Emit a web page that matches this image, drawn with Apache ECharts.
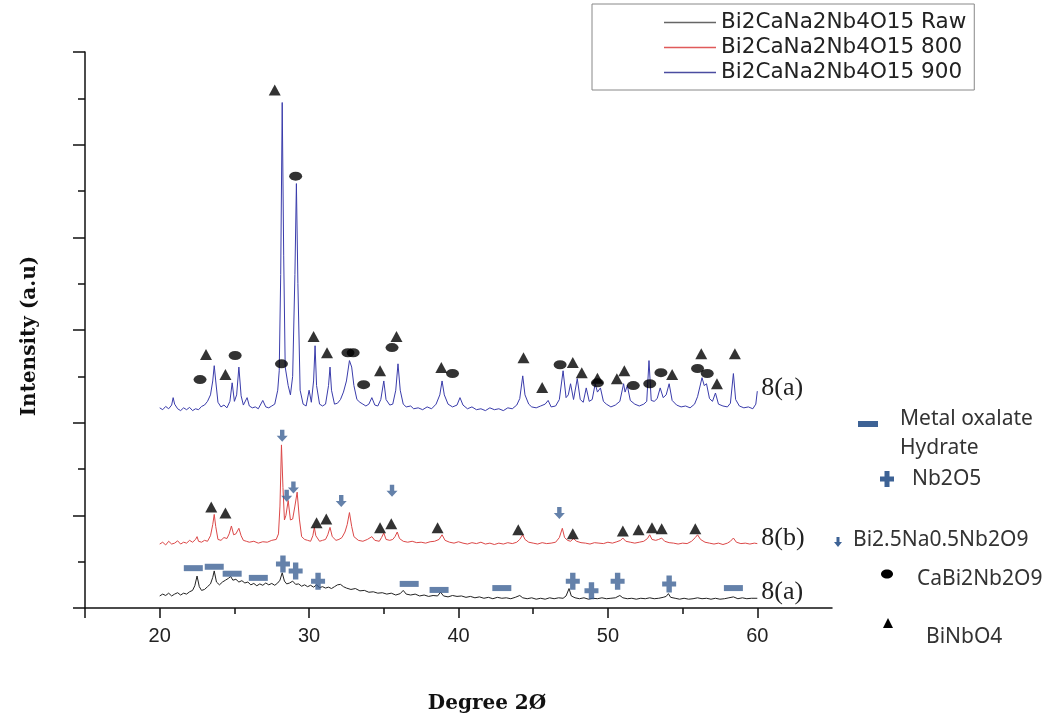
<!DOCTYPE html>
<html>
<head>
<meta charset="utf-8">
<script src="https://cdn.jsdelivr.net/npm/echarts@6/dist/echarts.min.js"></script>
<style>
  html, body { margin: 0; padding: 0; background: #fff; }
  #chart { width: 1047px; height: 722px; }
</style>
</head>
<body>
<div id="chart"></div>
<script>
// series names + end tags
var seriesNames = ['Bi2CaNa2Nb4O15 Raw', 'Bi2CaNa2Nb4O15 800', 'Bi2CaNa2Nb4O15 900']
var endTags = ['8(a)', '8(b)', '8(a)']

// x ticks / labels (degree 2theta)
var majorTicks = [15, 20, 30, 40, 50, 60]
var minorTicks = [25, 35, 45, 55]
var xLabels = [20, 30, 40, 50, 60]

// raw powder
var rawData = [
  [20.0,130],[20.2,150],[20.4,135],[20.6,160],[20.8,130],[21.0,150],[21.2,165],[21.4,140],[21.6,160],[21.8,150],
  [22.0,175],[22.2,190],[22.35,240],[22.5,345],[22.65,230],[22.8,190],[23.0,200],[23.2,230],[23.4,260],[23.55,330],
  [23.65,400],[23.8,280],[24.0,250],[24.2,280],[24.4,300],[24.6,320],[24.75,340],[24.9,300],[25.1,310],[25.3,280],
  [25.5,295],[25.7,270],[25.9,280],[26.1,250],[26.3,265],[26.5,240],[26.7,260],[26.9,245],[27.1,270],[27.3,250],
  [27.5,265],[27.7,245],[27.9,270],[28.05,300],[28.2,380],[28.35,290],[28.5,260],[28.7,270],[28.9,290],[29.1,255],
  [29.3,260],[29.5,235],[29.7,250],[29.9,230],[30.1,245],[30.3,225],[30.5,250],[30.7,220],[30.9,230],[31.1,215],
  [31.3,225],[31.5,210],[31.7,230],[31.9,250],[32.1,255],[32.3,230],[32.5,215],[32.8,200],[33.1,210],[33.4,185],
  [33.7,190],[34.0,170],[34.3,175],[34.6,160],[34.9,165],[35.2,150],[35.5,160],[35.8,140],[36.1,155],[36.3,190],
  [36.5,150],[36.8,140],[37.1,150],[37.4,130],[37.7,140],[38.0,125],[38.3,135],[38.6,130],[38.8,170],[39.0,130],
  [39.3,120],[39.6,135],[39.9,125],[40.2,130],[40.5,115],[40.8,125],[41.1,110],[41.4,120],[41.7,105],[42.0,115],
  [42.3,100],[42.6,115],[42.9,105],[43.2,110],[43.5,100],[43.8,115],[44.1,135],[44.3,110],[44.6,100],[44.9,110],
  [45.2,95],[45.5,105],[45.8,95],[46.1,110],[46.4,100],[46.7,110],[47.0,105],[47.2,130],[47.4,210],[47.55,130],
  [47.8,110],[48.1,100],[48.4,110],[48.7,95],[49.0,105],[49.3,100],[49.6,110],[49.9,100],[50.2,105],[50.5,110],
  [50.8,135],[51.0,110],[51.3,100],[51.6,105],[51.9,95],[52.2,105],[52.5,100],[52.8,110],[53.1,100],[53.4,105],
  [53.7,115],[53.9,125],[54.05,155],[54.2,115],[54.5,105],[54.8,95],[55.1,105],[55.4,95],[55.7,100],[56.0,110],
  [56.3,100],[56.6,105],[56.9,95],[57.2,105],[57.5,95],[57.8,100],[58.1,110],[58.4,120],[58.7,100],[59.0,110],
  [59.3,100],[59.6,105],[60.0,105]
]

// calcined 800
var data800 = [
  [20.0,690],[20.2,710],[20.4,680],[20.6,720],[20.8,690],[21.0,700],[21.2,725],[21.4,690],[21.6,710],[21.8,700],
  [22.0,730],[22.2,710],[22.4,740],[22.5,770],[22.6,720],[22.8,710],[23.0,730],[23.2,720],[23.4,780],[23.55,900],
  [23.65,1010],[23.75,880],[23.9,740],[24.1,730],[24.3,760],[24.5,750],[24.65,800],[24.8,885],[24.95,790],[25.1,800],
  [25.3,860],[25.45,780],[25.6,730],[25.8,720],[26.0,710],[26.3,720],[26.6,700],[26.9,715],[27.2,710],[27.5,730],
  [27.8,740],[27.95,800],[28.05,1100],[28.15,1760],[28.25,1300],[28.35,950],[28.45,1000],[28.6,1160],[28.75,950],[28.9,960],
  [29.05,1100],[29.2,1250],[29.35,960],[29.5,770],[29.7,740],[29.9,730],[30.1,720],[30.25,780],[30.35,870],[30.45,780],
  [30.7,720],[30.9,730],[31.1,740],[31.25,790],[31.4,870],[31.55,770],[31.8,730],[32.0,740],[32.2,760],[32.4,820],
  [32.55,900],[32.7,1030],[32.85,880],[33.0,770],[33.3,730],[33.6,720],[33.9,740],[34.2,770],[34.4,730],[34.7,720],
  [34.85,760],[35.0,810],[35.15,740],[35.4,730],[35.6,740],[35.75,770],[35.9,820],[36.05,750],[36.3,720],[36.6,710],
  [36.9,720],[37.2,705],[37.5,710],[37.8,700],[38.1,715],[38.4,720],[38.7,740],[38.9,790],[39.1,730],[39.4,710],
  [39.7,700],[40.0,715],[40.3,700],[40.6,690],[40.9,705],[41.2,695],[41.5,710],[41.8,690],[42.1,700],[42.4,685],
  [42.7,700],[43.0,690],[43.3,705],[43.6,695],[43.9,710],[44.1,740],[44.3,790],[44.45,740],[44.7,710],[45.0,700],
  [45.3,690],[45.6,705],[45.9,695],[46.2,700],[46.5,710],[46.75,760],[46.95,860],[47.1,760],[47.3,730],[47.5,720],
  [47.7,750],[47.9,720],[48.2,705],[48.5,700],[48.8,690],[49.1,705],[49.4,700],[49.7,695],[50.0,710],[50.3,700],
  [50.6,715],[50.85,730],[51.0,755],[51.2,720],[51.5,710],[51.8,700],[52.1,710],[52.4,720],[52.65,750],[52.8,790],
  [52.95,740],[53.2,730],[53.4,740],[53.6,755],[53.8,720],[54.1,705],[54.4,700],[54.7,690],[55.0,700],[55.3,695],
  [55.6,720],[55.85,760],[56.0,790],[56.2,740],[56.5,710],[56.8,700],[57.1,690],[57.4,700],[57.7,685],[58.0,700],
  [58.2,720],[58.4,755],[58.6,710],[58.9,695],[59.2,700],[59.5,690],[59.8,700],[60.0,695]
]

// calcined 900
var data900 = [
  [20.0,2160],[20.2,2140],[20.4,2175],[20.6,2150],[20.8,2190],[20.9,2270],[21.0,2200],[21.2,2150],[21.4,2130],[21.6,2160],
  [21.8,2140],[22.0,2165],[22.2,2130],[22.4,2150],[22.6,2140],[22.8,2175],[23.0,2190],[23.2,2230],[23.4,2300],[23.55,2450],
  [23.65,2615],[23.75,2450],[23.9,2220],[24.1,2170],[24.3,2190],[24.5,2160],[24.7,2230],[24.85,2430],[25.0,2230],[25.15,2300],
  [25.3,2600],[25.45,2290],[25.6,2190],[25.85,2270],[26.0,2180],[26.2,2160],[26.4,2170],[26.6,2150],[26.9,2240],[27.1,2170],
  [27.3,2160],[27.5,2180],[27.7,2200],[27.9,2350],[28.0,2560],[28.1,3600],[28.2,5455],[28.3,3800],[28.4,2600],[28.6,2400],
  [28.75,2300],[28.9,2500],[29.05,3600],[29.15,4580],[29.25,3500],[29.4,2350],[29.6,2200],[29.8,2180],[30.0,2350],[30.15,2220],
  [30.3,2450],[30.4,2830],[30.5,2400],[30.7,2200],[30.9,2180],[31.1,2200],[31.3,2400],[31.4,2600],[31.5,2350],[31.7,2200],
  [31.9,2210],[32.1,2250],[32.3,2330],[32.5,2450],[32.7,2670],[32.85,2600],[33.0,2400],[33.2,2250],[33.4,2220],[33.6,2200],
  [33.8,2180],[34.0,2200],[34.2,2270],[34.4,2190],[34.6,2180],[34.8,2250],[35.0,2450],[35.15,2250],[35.4,2190],[35.6,2200],
  [35.8,2350],[35.95,2635],[36.1,2350],[36.3,2200],[36.5,2170],[36.8,2180],[37.0,2150],[37.3,2160],[37.6,2140],[37.9,2170],
  [38.2,2150],[38.5,2200],[38.75,2300],[38.9,2450],[39.05,2300],[39.3,2200],[39.6,2170],[39.9,2190],[40.1,2270],[40.3,2190],
  [40.6,2150],[40.9,2170],[41.2,2140],[41.5,2150],[41.8,2130],[42.1,2160],[42.4,2140],[42.7,2150],[43.0,2130],[43.3,2160],
  [43.6,2150],[43.9,2190],[44.1,2260],[44.3,2505],[44.45,2300],[44.7,2200],[44.9,2170],[45.2,2160],[45.5,2180],[45.8,2200],
  [46.0,2240],[46.2,2170],[46.5,2180],[46.75,2250],[47.0,2560],[47.2,2270],[47.35,2300],[47.5,2420],[47.7,2250],[47.95,2475],
  [48.15,2250],[48.35,2220],[48.55,2375],[48.75,2230],[48.95,2250],[49.15,2420],[49.3,2330],[49.5,2375],[49.7,2230],[49.9,2200],
  [50.2,2170],[50.5,2190],[50.8,2230],[51.05,2420],[51.15,2330],[51.3,2400],[51.5,2240],[51.8,2200],[52.1,2180],[52.4,2200],
  [52.6,2230],[52.75,2670],[52.9,2240],[53.1,2230],[53.3,2260],[53.5,2375],[53.7,2270],[53.9,2300],[54.1,2420],[54.3,2240],
  [54.6,2190],[54.9,2170],[55.2,2180],[55.5,2160],[55.8,2200],[56.0,2280],[56.3,2485],[56.45,2400],[56.6,2420],[56.8,2260],
  [57.0,2230],[57.2,2320],[57.4,2200],[57.7,2180],[58.0,2170],[58.2,2210],[58.4,2530],[58.55,2250],[58.8,2180],[59.1,2160],
  [59.4,2170],[59.7,2150],[59.9,2200],[60.0,2340]
]

// phase markers [2theta, height]
var binbo4Marks = [
  [23.1,2735],[24.4,2520],[27.7,5590],[30.3,2930],[31.2,2755],[34.75,2560],[35.85,2930],[38.85,2595],[44.35,2700],[45.6,2380],
  [47.65,2650],[48.25,2540],[49.3,2480],[50.6,2475],[51.1,2560],[54.3,2520],[56.25,2745],[57.3,2420],[58.5,2745],
  [23.45,1090],[24.4,1025],[30.5,920],[31.15,960],[34.75,865],[35.5,910],[38.6,865],[44.0,845],[47.65,800],[51.0,830],
  [52.05,845],[52.95,865],[53.6,855],[55.85,855]
]
var cabiMarks = [
  [22.7,2465],[25.05,2725],[28.15,2635],[29.1,4660],[32.6,2755],[32.95,2755],[33.65,2410],[35.55,2810],[39.6,2530],[46.8,2625],
  [49.3,2430],[51.7,2400],[52.8,2420],[53.55,2540],[56.0,2585],[56.65,2530]
]
var bnnMarks = [[28.2,1860],[28.5,1210],[28.95,1300],[32.15,1155],[35.55,1265],[46.75,1025]]
var nb2o5Marks = [[28.25,475],[29.1,400],[30.6,290],[47.65,290],[48.9,185],[50.65,290],[54.1,260]]
var oxalateMarks = [[22.25,430],[23.65,445],[24.85,370],[26.6,325],[36.7,260],[38.7,195],[42.9,215],[58.4,215]]

var markBlue = '#3d6295'
var arrowPath = 'path://M3,0H7V6H10L5,12L0,6H3Z'
var plusPath = 'path://M4,0H9V6H13V11H9V17H4V11H0V6H4Z'

var chart = echarts.init(document.getElementById('chart'))

var lineColors = ['#222222', '#dc4848', '#3a3cab']
var legendColors = ['#666666', '#e05a5a', '#4a4ca0']
var lineData = [rawData, data800, data900]
var tagOffset = [[0, -6], [0, -5], [0, -3]]

var series = lineData.map(function (d, i) {
  return {
    name: seriesNames[i],
    type: 'line',
    data: d,
    symbol: 'none',
    silent: true,
    z: 2,
    lineStyle: { color: lineColors[i], width: 1 },
    itemStyle: { color: legendColors[i] },
    endLabel: {
      show: true,
      formatter: function () { return endTags[i] },
      fontFamily: 'Liberation Serif',
      fontSize: 26,
      color: '#222',
      distance: 4,
      offset: tagOffset[i]
    }
  }
})

function markSeries (name, data, symbol, size, color) {
  return {
    name: name,
    type: 'scatter',
    data: data,
    symbol: symbol,
    symbolSize: size,
    silent: true,
    z: 5,
    itemStyle: { color: color }
  }
}

series.push(markSeries('BiNbO4', binbo4Marks, 'triangle', [12, 11], '#000'))
series.push(markSeries('CaBi2Nb2O9', cabiMarks, 'circle', [13, 9], '#000'))
series.push(markSeries('Bi2.5Na0.5Nb2O9', bnnMarks, arrowPath, [11, 12], markBlue))
series.push(markSeries('Nb2O5', nb2o5Marks, plusPath, [14, 17], markBlue))
series.push(markSeries('Metal oxalate Hydrate', oxalateMarks, 'rect', [19, 6], markBlue))

var keyFont = '21px "Noto Sans"'
var keyText = function (txt, x, y) {
  return { type: 'text', style: { text: txt, x: x, y: y, font: keyFont, fill: '#333', verticalAlign: 'middle' } }
}

var option = {
  animation: false,
  backgroundColor: '#fff',
  grid: { left: 85, right: 215, top: 52, bottom: 114 },
  legend: {
    data: seriesNames,
    orient: 'vertical',
    left: 592,
    top: 4,
    padding: [7, 8, 6, 72],
    itemGap: 2,
    itemWidth: 52,
    itemHeight: 1.5,
    icon: 'rect',
    borderColor: '#888',
    borderWidth: 1,
    selectedMode: false,
    textStyle: { fontFamily: 'DejaVu Sans', fontSize: 21.5, lineHeight: 23, color: '#222' }
  },
  xAxis: [{
    type: 'value',
    min: 15,
    max: 65,
    interval: 5,
    name: 'Degree 2Ø',
    nameLocation: 'middle',
    nameGap: 86,
    nameTextStyle: { fontFamily: 'DejaVu Serif', fontWeight: 'bold', fontSize: 20, color: '#111', padding: [0, 0, 0, 57] },
    axisLine: { lineStyle: { color: '#111', width: 1.5 } },
    axisTick: { customValues: majorTicks, length: 10, lineStyle: { color: '#111', width: 1.5 } },
    axisLabel: { customValues: xLabels, margin: 18, fontFamily: 'Liberation Sans', fontSize: 20, color: '#222' },
    splitLine: { show: false }
  }, {
    type: 'value',
    min: 15,
    max: 65,
    interval: 5,
    position: 'bottom',
    axisLine: { show: false },
    axisTick: { customValues: minorTicks, length: 6, lineStyle: { color: '#111', width: 1.5 } },
    axisLabel: { show: false },
    splitLine: { show: false }
  }],
  yAxis: {
    type: 'value',
    min: 0,
    max: 6000,
    interval: 1000,
    name: 'Intensity (a.u)',
    nameLocation: 'middle',
    nameRotate: 90,
    nameGap: 45,
    nameTextStyle: { fontFamily: 'DejaVu Serif', fontWeight: 'bold', fontSize: 20, color: '#111', padding: [0, 12, 0, 0] },
    axisLine: { show: true, lineStyle: { color: '#111', width: 1.5 } },
    axisTick: { show: true, length: 12, lineStyle: { color: '#111', width: 1.5 } },
    minorTick: { show: true, splitNumber: 2, length: 7, lineStyle: { color: '#111', width: 1.5 } },
    axisLabel: { show: false },
    splitLine: { show: false }
  },
  graphic: [
    { type: 'rect', shape: { x: 858, y: 421, width: 20, height: 6 }, style: { fill: markBlue } },
    keyText('Metal oxalate', 900, 419),
    keyText('Hydrate', 900, 448),
    { type: 'polygon', shape: { points: [[884.5, 471], [889.5, 471], [889.5, 476.5], [894, 476.5], [894, 481.5], [889.5, 481.5], [889.5, 487], [884.5, 487], [884.5, 481.5], [880, 481.5], [880, 476.5], [884.5, 476.5]] }, style: { fill: markBlue } },
    keyText('Nb2O5', 912, 479),
    { type: 'polygon', shape: { points: [[836.5, 537], [839.5, 537], [839.5, 542], [842, 542], [838, 547], [834, 542], [836.5, 542]] }, style: { fill: markBlue } },
    keyText('Bi2.5Na0.5Nb2O9', 853, 540),
    { type: 'ellipse', shape: { cx: 887, cy: 574, rx: 6, ry: 4.5 }, style: { fill: '#000' } },
    keyText('CaBi2Nb2O9', 917, 579),
    { type: 'polygon', shape: { points: [[888, 618], [893, 628], [883, 628]] }, style: { fill: '#000' } },
    keyText('BiNbO4', 926, 637)
  ],
  series: series
}

chart.setOption(option)
</script>
</body>
</html>
